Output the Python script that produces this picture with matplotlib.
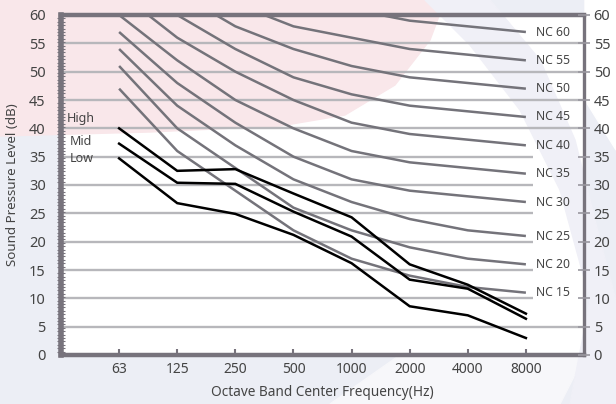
import matplotlib
matplotlib.use("Agg")
import matplotlib.pyplot as plt
from matplotlib.patches import Polygon, Rectangle
import numpy as np

plt.rcParams['font.family'] = ['Noto Sans', 'DejaVu Sans']

# ---- data ----
freqs = ["63", "125", "250", "500", "1000", "2000", "4000", "8000"]
nc_names = ["NC 15", "NC 20", "NC 25", "NC 30", "NC 35", "NC 40", "NC 45", "NC 50", "NC 55", "NC 60"]
nc_values = [
    [47, 36, 29, 22, 17, 14, 12, 11],
    [51, 40, 33, 26, 22, 19, 17, 16],
    [54, 44, 37, 31, 27, 24, 22, 21],
    [57, 48, 41, 35, 31, 29, 28, 27],
    [60, 52, 45, 40, 36, 34, 33, 32],
    [64, 56, 50, 45, 41, 39, 38, 37],
    [67, 60, 54, 49, 46, 44, 43, 42],
    [71, 64, 58, 54, 51, 49, 48, 47],
    [74, 67, 62, 58, 56, 54, 53, 52],
    [77, 71, 67, 63, 61, 59, 58, 57],
]
unit_names = ["High", "Mid", "Low"]
high = [40.0, 32.5, 32.8, 28.5, 24.3, 16.0, 12.4, 7.3]
mid = [37.3, 30.4, 30.2, 25.3, 20.9, 13.3, 11.7, 6.4]
low = [34.7, 26.8, 24.9, 21.2, 16.2, 8.6, 7.0, 3.0]
yticks = list(range(0, 61, 5))

W, H = 616, 404
fig = plt.figure(figsize=(W / 100, H / 100), dpi=100)
fig.patch.set_facecolor('#eceef5')

# ---- decorative background (watermark approximation), pixel coords ----
bg = fig.add_axes([0, 0, 1, 1], zorder=-5)
bg.set_xlim(0, W)
bg.set_ylim(H, 0)
bg.axis('off')
bg.add_patch(Rectangle((0, 0), W, H, color='#eceef5'))
# chart area and light regions
bg.add_patch(Polygon([(60, 15), (585, 15), (585, 355), (60, 355)], closed=True, color='white'))
bg.add_patch(Polygon([(330, 404), (560, 404), (585, 355), (400, 355)], closed=True, color='#f7f7fa'))
bg.add_patch(Polygon([(585, 0), (616, 0), (616, 150), (585, 100)], closed=True, color='white'))
# pink area top-left
bg.add_patch(Polygon([(0, 0), (445, 0), (430, 40), (395, 85), (345, 115), (280, 126),
                      (150, 132), (0, 136)], closed=True, color='#f9e7ea'))
# bluish swoosh
bg.add_patch(Polygon([(425, 0), (490, 0), (540, 60), (575, 140), (600, 240), (616, 300),
                      (616, 404), (570, 404), (590, 300), (560, 190), (520, 110), (470, 45)],
                     closed=True, color='#f0f0f7'))

# ---- main axes ----
ax = fig.add_axes([61 / W, 1 - 355 / H, (584 - 61) / W, (355 - 15) / H])
ax.set_facecolor('none')
x = np.arange(len(freqs))
ax.set_xlim(-1.0, 8.0)
ax.set_ylim(0, 60)

grid_color = '#b7b7bb'
short_lines = {10, 15, 20, 25, 30, 35}
for v in yticks[1:-1]:
    xmax = 7.12 if v in short_lines else 8.0
    ax.plot([-1.0, xmax], [v, v], color=grid_color, lw=1.7, zorder=1, solid_capstyle='butt')

for name, vals in zip(nc_names, nc_values):
    ax.plot(x, vals, color='#74737a', lw=1.8, zorder=2, solid_capstyle='butt')
    if vals[-1] <= 60:
        ax.text(7.47, vals[-1], name, ha='center', va='center', fontsize=8.8,
                color='#444444', zorder=3)

for vals in (high, mid, low):
    ax.plot(x, vals, color='black', lw=1.8, zorder=4, solid_joinstyle='miter')

ax.text(-0.9, 41.8, unit_names[0], ha='left', va='center', fontsize=9, color='#444444')
ax.text(-0.85, 37.6, unit_names[1], ha='left', va='center', fontsize=9, color='#444444')
ax.text(-0.85, 34.7, unit_names[2], ha='left', va='center', fontsize=9, color='#444444')

spine_color = '#77737c'
for s in ax.spines.values():
    s.set_color(spine_color)
ax.spines['top'].set_linewidth(3.2)
ax.spines['bottom'].set_linewidth(3.2)
ax.spines['left'].set_linewidth(4.0)
ax.spines['right'].set_linewidth(2.4)

ax.set_xticks(x)
ax.set_xticklabels(freqs)
ax.tick_params(axis='x', direction='in', length=4, width=1.5, color=spine_color,
               labelsize=10, labelcolor='#444444', pad=5)
ax.set_yticks(yticks)
ax.set_yticklabels([str(v) for v in yticks])
ax.tick_params(axis='y', which='major', length=0, labelsize=10.5, labelcolor='#444444', pad=11)
ax.set_yticks(np.arange(0, 60.01, 0.6), minor=True)
ax.tick_params(axis='y', which='minor', direction='inout', length=6, width=0.8, color=spine_color)

ax2 = ax.twinx()
ax2.set_ylim(0, 60)
ax2.set_yticks(yticks)
ax2.set_yticklabels([str(v) for v in yticks])
ax2.tick_params(axis='y', direction='inout', length=8, width=1.2, color='#9a98a0',
                labelsize=10.5, labelcolor='#444444', pad=3)
for s in ax2.spines.values():
    s.set_visible(False)

ax.set_xlabel('Octave Band Center Frequency(Hz)', fontsize=9.8, color='#444444', labelpad=6)
ax.set_ylabel('Sound Pressure Level (dB)', fontsize=9.6, color='#444444', labelpad=7)

fig.savefig('out.png', dpi=100, facecolor=fig.get_facecolor())
